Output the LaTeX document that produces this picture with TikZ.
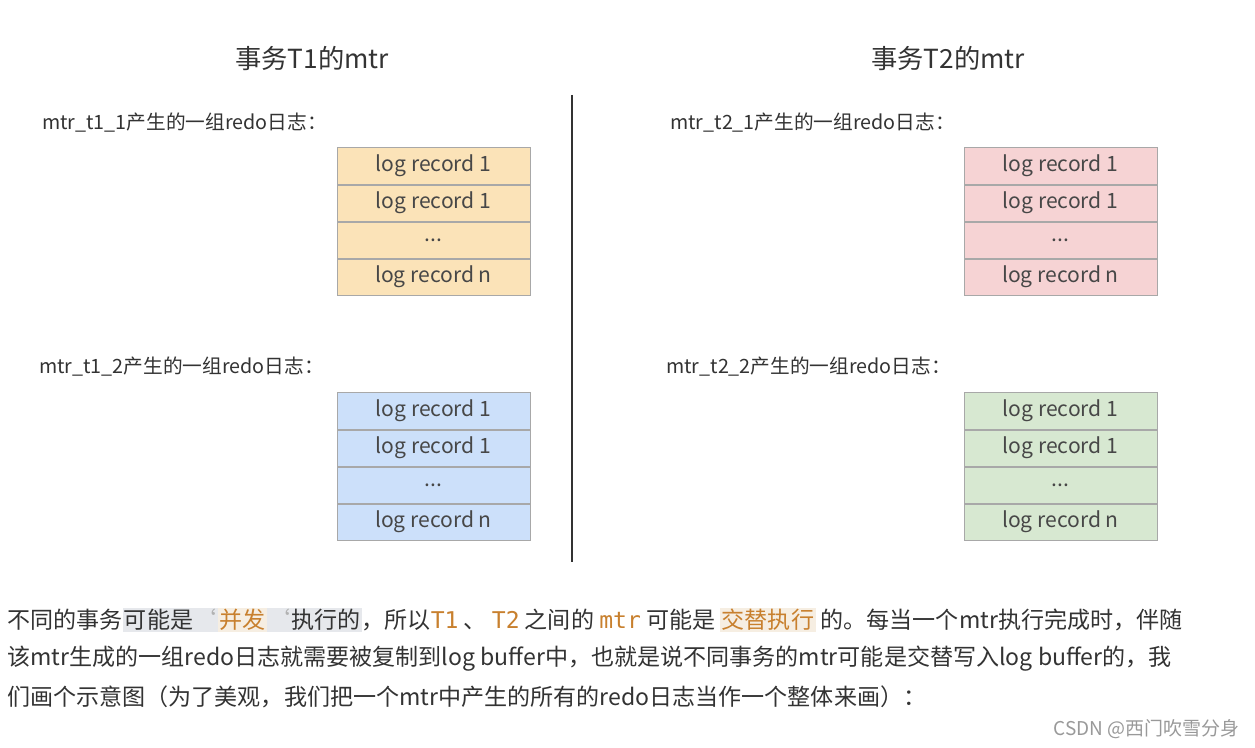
\documentclass[tikz,border=0pt]{standalone}
\usepackage{fontspec}
\setmainfont{Noto Sans CJK SC}
\setmonofont{DejaVu Sans Mono}
\usetikzlibrary{positioning}

\definecolor{recline}{HTML}{A8A8A8}
\definecolor{fillone}{HTML}{FBE3B8}
\definecolor{filltwo}{HTML}{CCE0FA}
\definecolor{fillthree}{HTML}{F6D3D4}
\definecolor{fillfour}{HTML}{D7E8D1}
\definecolor{codeorange}{HTML}{C8802E}
\definecolor{markgrey}{HTML}{E6E8EC}
\definecolor{markbeige}{HTML}{F6EEE2}
\definecolor{txt}{HTML}{333333}

\newcommand{\code}[1]{{\ttfamily\color{codeorange}#1}}
\newcommand{\hlgrey}[1]{{\setlength{\fboxsep}{1pt}\colorbox{markgrey}{#1}}}
\newcommand{\hlbeige}[1]{{\setlength{\fboxsep}{1pt}\colorbox{markbeige}{\color{codeorange}#1}}}
\newcommand{\btick}{{\color{black!30}\symbol{96}}}

\begin{document}
\begin{tikzpicture}[x=0.025cm,y=-0.025cm,
  rec/.style={draw=recline, line width=0.6pt, minimum width=4.825cm,
    minimum height=0.905cm, inner sep=0pt, text=txt!90,
    font=\fontsize{15}{17}\selectfont},
  head/.style={text=txt, font=\fontsize{18.7}{21}\selectfont},
  lbl/.style={anchor=west, inner sep=0pt, text=txt, font=\fontsize{14}{16}\selectfont},
  para/.style={anchor=west, inner sep=0pt, text=txt, font=\fontsize{16.4}{19}\selectfont}]

\useasboundingbox[fill=white] (0,0) rectangle (1255,748);

% Titles
\node[head] (t1) at (312,58) {事务T1的mtr};
\node[head] (t2) at (948,58) {事务T2的mtr};

% Divider
\coordinate (top) at (572,95);
\coordinate (bot) at (572,562);
\draw[line width=1.3pt, txt] (top)--(bot);

% Labels
\node[lbl] (l11) at (42,123) {mtr\_t1\_1产生的一组redo日志：};
\node[lbl] (l12) at (39,367) {mtr\_t1\_2产生的一组redo日志：};
\node[lbl] (l21) at (670,123) {mtr\_t2\_1产生的一组redo日志：};
\node[lbl] (l22) at (666,367) {mtr\_t2\_2产生的一组redo日志：};

% First box
\node[rec, fill=fillone] (a1) at (433.5,166) {log record 1};
\node[rec, fill=fillone, below=0pt of a1] (b1) {log record 1};
\node[rec, fill=fillone, below=0pt of b1] (c1) {...};
\node[rec, fill=fillone, below=0pt of c1] (d1) {log record n};

% Second box
\node[rec, fill=filltwo] (a2) at (433.5,411) {log record 1};
\node[rec, fill=filltwo, below=0pt of a2] (b2) {log record 1};
\node[rec, fill=filltwo, below=0pt of b2] (c2) {...};
\node[rec, fill=filltwo, below=0pt of c2] (d2) {log record n};

% Third box
\node[rec, fill=fillthree] (a3) at (1060.5,166) {log record 1};
\node[rec, fill=fillthree, below=0pt of a3] (b3) {log record 1};
\node[rec, fill=fillthree, below=0pt of b3] (c3) {...};
\node[rec, fill=fillthree, below=0pt of c3] (d3) {log record n};

% Fourth box
\node[rec, fill=fillfour] (a4) at (1060.5,411) {log record 1};
\node[rec, fill=fillfour, below=0pt of a4] (b4) {log record 1};
\node[rec, fill=fillfour, below=0pt of b4] (c4) {...};
\node[rec, fill=fillfour, below=0pt of c4] (d4) {log record n};

% Text below
\node[para] (p1) at (7,620) {不同的事务\hlgrey{可能是\btick}\hlbeige{并发}\hlgrey{\btick 执行的}，所以\code{T1} 、 \code{T2} 之间的 \code{mtr} 可能是 \hlbeige{交替执行} 的。每当一个mtr执行完成时，伴随};
\node[para] (p2) at (7,659) {该mtr生成的一组redo日志就需要被复制到log buffer中，也就是说不同事务的mtr可能是交替写入log buffer的，我};
\node[para] (p3) at (7,697) {们画个示意图（为了美观，我们把一个mtr中产生的所有的redo日志当作一个整体来画）：};

\node[anchor=east, inner sep=0pt, text=black!40, font=\fontsize{13.5}{15}\selectfont] (wm) at (1240,729) {CSDN @西门吹雪分身};

\end{tikzpicture}
\end{document}
